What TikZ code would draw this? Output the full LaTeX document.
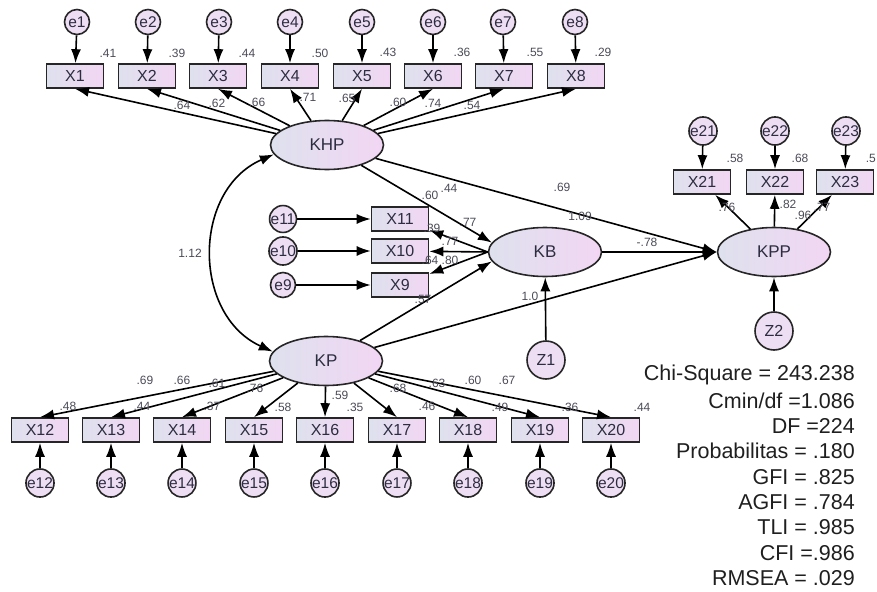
\documentclass[tikz,border=0pt]{standalone}
\usepackage{fontspec}
\setmainfont{Liberation Sans}
\usepackage{xcolor}
\usetikzlibrary{shapes,arrows.meta,positioning,calc}
\definecolor{boxleft}{RGB}{222,225,238}
\definecolor{boxright}{RGB}{242,214,243}
\definecolor{errfill}{RGB}{238,222,243}
\definecolor{txtcol}{RGB}{45,45,65}
\definecolor{numcol}{RGB}{75,75,88}

\begin{document}
\begin{tikzpicture}[x=1pt, y=-1pt,
    obs/.style={rectangle, draw=black!85, line width=1.6pt, left color=boxleft, right color=boxright, minimum width=57pt, minimum height=24pt, inner sep=0pt, font=\fontsize{16}{16}\selectfont, text=txtcol},
    lat/.style={ellipse, draw=black!85, line width=1.6pt, left color=boxleft, right color=boxright, minimum width=113pt, minimum height=49pt, inner sep=0pt, font=\fontsize{17}{17}\selectfont, text=txtcol},
    err/.style={circle, draw=black!85, line width=1.6pt, fill=errfill, minimum size=25pt, inner sep=0pt, font=\fontsize{15.5}{15.5}\selectfont, text=txtcol},
    dist/.style={circle, draw=black!85, line width=1.6pt, fill=errfill, minimum size=38pt, inner sep=0pt, font=\fontsize{16}{16}\selectfont, text=txtcol},
    val/.style={inner sep=0pt, font=\fontsize{12}{12}\selectfont, text=numcol},
    stat/.style={anchor=east, inner sep=0pt, font=\fontsize{21.5}{21.5}\selectfont, text=black!88},
    arrow/.style={-{Latex[length=14pt,width=10pt]}, line width=1.6pt},
    twoway/.style={{Latex[length=14pt,width=10pt]}-{Latex[length=14pt,width=10pt]}, line width=1.6pt}
]
    \useasboundingbox (0,0) rectangle (877,591);

    % latent variables
    \node[lat] (khp) at (327,145) {KHP};
    \node[lat] (kp) at (326,361) {KP};
    \node[lat] (kb) at (545,252) {KB};
    \node[lat] (kpp) at (774,252) {KPP};
    \node[dist] (z1) at (546,360) {Z1};
    \node[dist] (z2) at (774,331) {Z2};

    % KHP indicators
    \node[obs] (x1) at (75,76) {X1};
    \node[obs] (x2) at (147,76) {X2};
    \node[obs] (x3) at (218,76) {X3};
    \node[obs] (x4) at (290,76) {X4};
    \node[obs] (x5) at (362,76) {X5};
    \node[obs] (x6) at (433,76) {X6};
    \node[obs] (x7) at (504,76) {X7};
    \node[obs] (x8) at (576,76) {X8};
    \node[err] (e1) at (77,22) {e1};
    \node[err] (e2) at (148,22) {e2};
    \node[err] (e3) at (219,22) {e3};
    \node[err] (e4) at (290,22) {e4};
    \node[err] (e5) at (362,22) {e5};
    \node[err] (e6) at (433,22) {e6};
    \node[err] (e7) at (503,22) {e7};
    \node[err] (e8) at (575,22) {e8};

    % KB indicators
    \node[obs] (x11) at (400,219) {X11};
    \node[obs] (x10) at (400,251) {X10};
    \node[obs] (x9) at (400,285) {X9};
    \node[err] (e11) at (283,219) {e11};
    \node[err] (e10) at (283,251) {e10};
    \node[err] (e9) at (283,285) {e9};

    % KPP indicators
    \node[obs] (x21) at (702,182) {X21};
    \node[obs] (x22) at (775,182) {X22};
    \node[obs] (x23) at (845,182) {X23};
    \node[err] (e21) at (703,131) {e21};
    \node[err] (e22) at (775,131) {e22};
    \node[err] (e23) at (846,131) {e23};

    % KP indicators
    \node[obs] (x12) at (40,430) {X12};
    \node[obs] (x13) at (111,430) {X13};
    \node[obs] (x14) at (182,430) {X14};
    \node[obs] (x15) at (254,430) {X15};
    \node[obs] (x16) at (325,430) {X16};
    \node[obs] (x17) at (397,430) {X17};
    \node[obs] (x18) at (468,430) {X18};
    \node[obs] (x19) at (540,430) {X19};
    \node[obs] (x20) at (611,430) {X20};
    \node[err] (e12) at (40,483) {e12};
    \node[err] (e13) at (111,483) {e13};
    \node[err] (e14) at (182,483) {e14};
    \node[err] (e15) at (254,483) {e15};
    \node[err] (e16) at (325,483) {e16};
    \node[err] (e17) at (397,483) {e17};
    \node[err] (e18) at (468,483) {e18};
    \node[err] (e19) at (540,483) {e19};
    \node[err] (e20) at (611,483) {e20};

    % error arrows
    \draw[arrow] (e1) -- (x1);
    \draw[arrow] (e2) -- (x2);
    \draw[arrow] (e3) -- (x3);
    \draw[arrow] (e4) -- (x4);
    \draw[arrow] (e5) -- (x5);
    \draw[arrow] (e6) -- (x6);
    \draw[arrow] (e7) -- (x7);
    \draw[arrow] (e8) -- (x8);
    \draw[arrow] (e11) -- (x11);
    \draw[arrow] (e10) -- (x10);
    \draw[arrow] (e9) -- (x9);
    \draw[arrow] (e21) -- (x21);
    \draw[arrow] (e22) -- (x22);
    \draw[arrow] (e23) -- (x23);
    \draw[arrow] (e12) -- (x12);
    \draw[arrow] (e13) -- (x13);
    \draw[arrow] (e14) -- (x14);
    \draw[arrow] (e15) -- (x15);
    \draw[arrow] (e16) -- (x16);
    \draw[arrow] (e17) -- (x17);
    \draw[arrow] (e18) -- (x18);
    \draw[arrow] (e19) -- (x19);
    \draw[arrow] (e20) -- (x20);

    % loadings
    \draw[arrow] (khp) -- (x1.south);
    \draw[arrow] (khp) -- (x2.south);
    \draw[arrow] (khp) -- (x3.south);
    \draw[arrow] (khp) -- (x4.south);
    \draw[arrow] (khp) -- (x5.south);
    \draw[arrow] (khp) -- (x6.south);
    \draw[arrow] (khp) -- (x7.south);
    \draw[arrow] (khp) -- (x8.south);
    \draw[arrow] (kp) -- (x12.north);
    \draw[arrow] (kp) -- (x13.north);
    \draw[arrow] (kp) -- (x14.north);
    \draw[arrow] (kp) -- (x15.north);
    \draw[arrow] (kp) -- (x16.north);
    \draw[arrow] (kp) -- (x17.north);
    \draw[arrow] (kp) -- (x18.north);
    \draw[arrow] (kp) -- (x19.north);
    \draw[arrow] (kp) -- (x20.north);
    \draw[arrow] (kb.west) -- (x11);
    \draw[arrow] (kb.west) -- (x10);
    \draw[arrow] (kb.west) -- (x9);
    \draw[arrow] (kpp) -- (x21);
    \draw[arrow] (kpp) -- (x22);
    \draw[arrow] (kpp) -- (x23);

    % structural paths
    \draw[twoway] (khp.190) .. controls (192,190) and (192,315) .. (kp.170);
    \draw[arrow] (khp) -- (kb.170);
    \draw[arrow] (kp) -- (kb.190);
    \draw[arrow] (khp) -- (kpp.west);
    \draw[arrow] (kb) -- (kpp.west);
    \draw[arrow] (kp) -- (kpp.west);
    \draw[arrow] (z1) -- (kb);
    \draw[arrow] (z2) -- (kpp);

    % estimates
    \node[val] (r1) at (108,53) {.41};
    \node[val] (r2) at (177,53) {.39};
    \node[val] (r3) at (247,53) {.44};
    \node[val] (r4) at (320,53) {.50};
    \node[val] (r5) at (388,52) {.43};
    \node[val] (r6) at (462,52) {.36};
    \node[val] (r7) at (535,52) {.55};
    \node[val] (r8) at (603,52) {.29};
    \node[val] (l1) at (182,105) {.64};
    \node[val] (l2) at (217,103) {.62};
    \node[val] (l3) at (257,102) {.66};
    \node[val] (l4) at (308,97) {.71};
    \node[val] (l5) at (347,98) {.65};
    \node[val] (l6) at (398,102) {.60};
    \node[val] (l7) at (433,103) {.74};
    \node[val] (l8) at (472,105) {.54};
    \node[val] (cov) at (190,253) {1.12};
    \node[val] (pkb1) at (430,195) {.60};
    \node[val] (rkb) at (449,188) {.44};
    \node[val] (pkb2) at (468,222) {.77};
    \node[val] (r11) at (432,228) {.39};
    \node[val] (l11) at (450,241) {.77};
    \node[val] (r10) at (430,260) {.64};
    \node[val] (l10) at (450,260) {.80};
    \node[val] (r9) at (423,299) {.57};
    \node[val] (pkpp1) at (562,187) {.69};
    \node[val] (rkpp) at (580,216) {1.09};
    \node[val] (pkpp2) at (647,242) {-.78};
    \node[val] (dz1) at (530,296) {1.0};
    \node[val] (l21) at (727,207) {.76};
    \node[val] (l22) at (788,204) {.82};
    \node[val] (rkpp2) at (803,215) {.96};
    \node[val] (l23) at (822,207) {.77};
    \node[val] (r21) at (735,158) {.58};
    \node[val] (r22) at (800,158) {.68};
    \node[val, anchor=east] (r23) at (876,158) {.5};
    \node[val] (l12) at (145,380) {.69};
    \node[val] (l13) at (182,380) {.66};
    \node[val] (l14) at (217,383) {.61};
    \node[val] (l15) at (255,388) {.76};
    \node[val] (r12) at (68,406) {.48};
    \node[val] (r13) at (142,406) {.44};
    \node[val] (r14) at (212,406) {.37};
    \node[val] (r15) at (283,407) {.58};
    \node[val] (l16) at (340,395) {.59};
    \node[val] (r16) at (355,407) {.35};
    \node[val] (l17) at (398,388) {.68};
    \node[val] (r17) at (427,406) {.46};
    \node[val] (l18) at (437,383) {.63};
    \node[val] (l19) at (473,380) {.60};
    \node[val] (l20) at (507,380) {.67};
    \node[val] (r18) at (500,407) {.49};
    \node[val] (r19) at (570,407) {.36};
    \node[val] (r20) at (642,407) {.44};

    % fit indices
    \node[stat] (s1) at (855,375) {Chi-Square = 243.238};
    \node[stat] (s2) at (855,400.4) {Cmin/df =1.086};
    \node[stat] (s3) at (855,425.8) {DF =224};
    \node[stat] (s4) at (855,451.2) {Probabilitas = .180};
    \node[stat] (s5) at (855,476.6) {GFI = .825};
    \node[stat] (s6) at (855,502) {AGFI = .784};
    \node[stat] (s7) at (855,527.4) {TLI = .985};
    \node[stat] (s8) at (855,552.8) {CFI =.986};
    \node[stat] (s9) at (855,578.2) {RMSEA = .029};
\end{tikzpicture}
\end{document}
